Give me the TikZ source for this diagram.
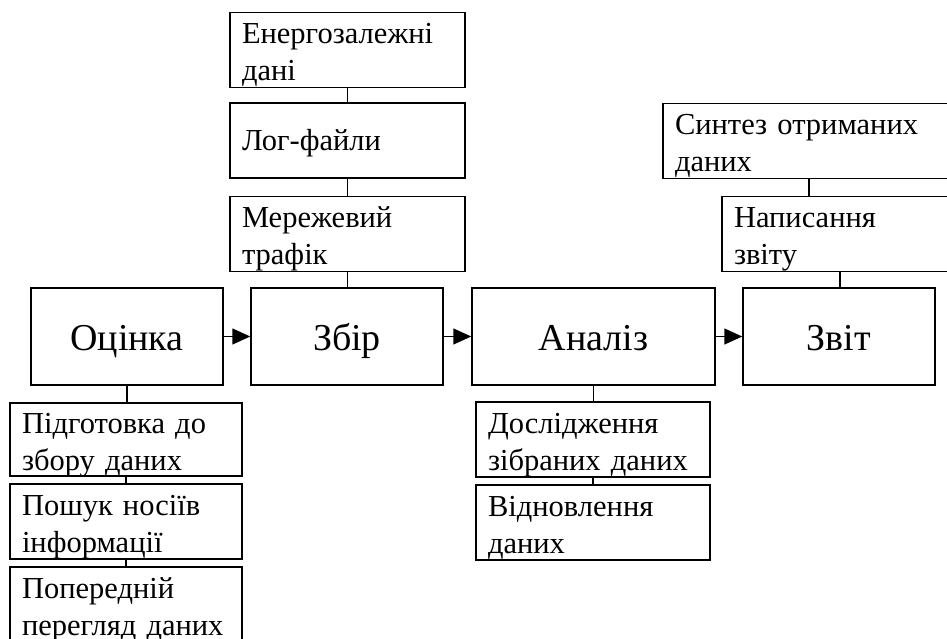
\documentclass[tikz,border=0pt]{standalone}
\usepackage{fontspec}
\setmainfont{Liberation Serif}
\usetikzlibrary{arrows.meta}
\begin{document}
\begin{tikzpicture}[x=1pt,y=-1pt,
  mainbox/.style={draw, line width=1.5pt, minimum width=192pt, minimum height=97pt,
    inner sep=0pt, font=\fontsize{38}{45}\selectfont, text height=27pt, text depth=0pt},
  subbox/.style={draw, line width=1.5pt, minimum height=75pt, align=left,
    inner xsep=12pt, inner ysep=0pt, font=\fontsize{30.5}{37}\selectfont,
    text height=30pt, text depth=43pt},
  onebox/.style={subbox, text height=20pt, text depth=0pt},
  link/.style={line width=1.5pt},
  arr/.style={line width=1.5pt, -{Triangle[length=18pt,width=16pt]}}]
\useasboundingbox (0,0) rectangle (947,639);
\clip (0,0) rectangle (947,639);
\fill[white] (0,0) rectangle (947,639);

% main row
\node[mainbox] (o) at (127,336.5) {Оцінка};
\node[mainbox] (z) at (347,336.5) {Збір};
\node[mainbox, minimum width=243pt] (a) at (593.5,336.5) {Аналіз};
\node[mainbox] (zv) at (839,336.5) {Звіт};

% collection stack
\node[subbox, minimum width=235pt, text width=211pt] (e1) at (347.5,50) {\mbox{Енергозалежні}\\дані};
\node[onebox, minimum width=235pt, text width=211pt] (e2) at (347.5,140.5) {Лог-файли};
\node[subbox, minimum width=235pt, text width=211pt] (e3) at (347.5,234) {Мережевий\\трафік};

% assessment stack
\node[subbox, minimum width=232pt, minimum height=73pt, text width=208pt] (p1) at (126,439.5) {\mbox{Підготовка до}\\\mbox{збору даних}};
\node[subbox, minimum width=232pt, text width=208pt] (p2) at (126,521.5) {\mbox{Пошук носіїв}\\інформації};
\node[subbox, minimum width=232pt, text width=208pt] (p3) at (126,604.5) {Попередній\\\mbox{перегляд даних}};

% analysis stack
\node[subbox, minimum width=234pt, text width=210pt] (d1) at (593,439.5) {Дослідження\\\mbox{зібраних даних}};
\node[subbox, minimum width=234pt, text width=210pt] (d2) at (593,522.5) {Відновлення\\даних};

% report stack
\node[subbox, minimum width=292pt, text width=268pt] (s1) at (809,141) {\mbox{Синтез отриманих}\\даних};
\node[subbox, minimum width=236pt, text width=212pt] (s2) at (840,234) {Написання\\звіту};

% arrows
\draw[arr] (o) -- (z);
\draw[arr] (z) -- (a);
\draw[arr] (a) -- (zv);

% links
\draw[link] (e1.south) -- (e2.north);
\draw[link] (e2.south) -- (e3.north);
\draw[link] (e3.south) -- (e3.south |- z.north);
\draw[link] (o.south) -- (o.south |- p1.north);
\draw[link] (p1.south) -- (p2.north);
\draw[link] (p2.south) -- (p3.north);
\draw[link] (a.south) -- (a.south |- d1.north);
\draw[link] (d1.south) -- (d2.north);
\draw[link] (s1.south) -- (s1.south |- s2.north);
\draw[link] (s2.south) -- (s2.south |- zv.north);
\end{tikzpicture}
\end{document}
